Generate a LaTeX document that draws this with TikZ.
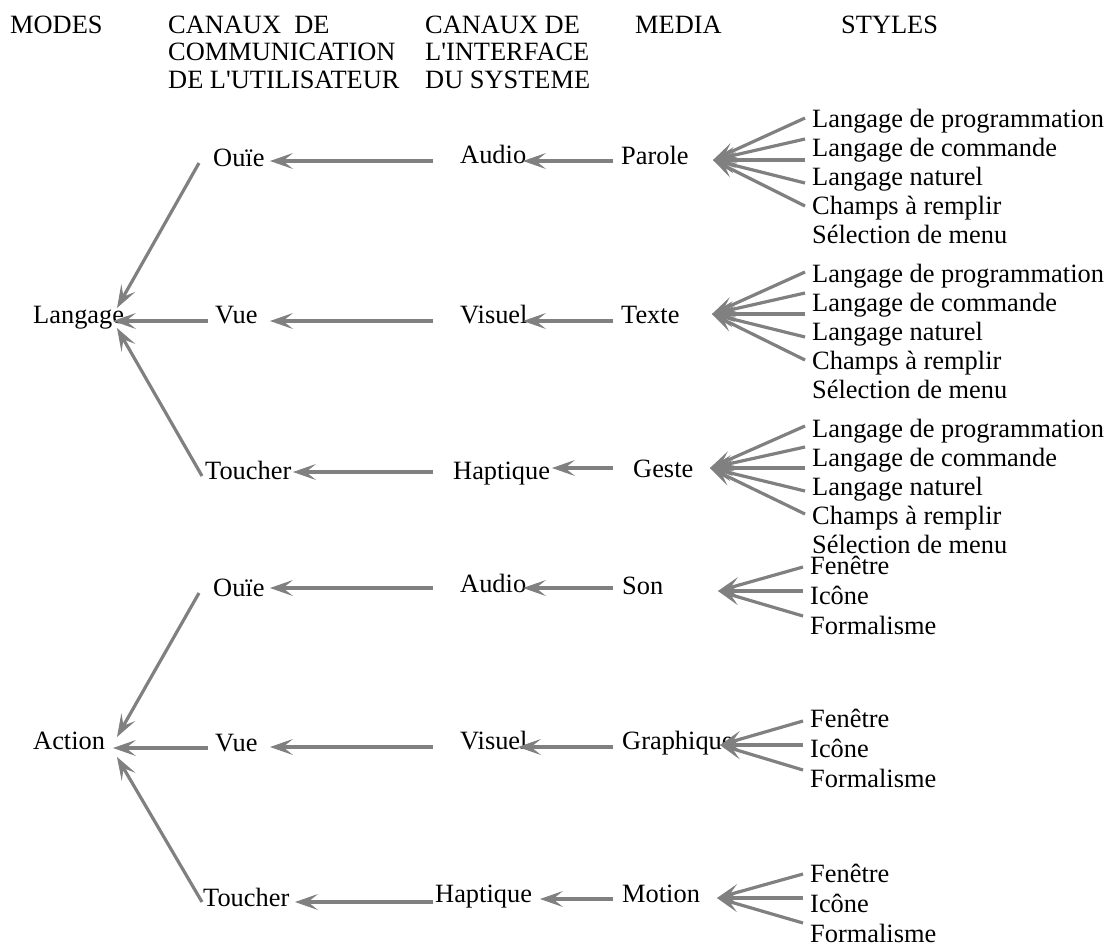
\documentclass[tikz,border=0pt]{standalone}
\usepackage{fontspec}
\setmainfont{Liberation Serif}[Ligatures=TeXOff]
\usetikzlibrary{arrows.meta}
\definecolor{arrgray}{HTML}{808080}
\tikzset{
  lbl/.style={anchor=base west,inner sep=0pt,font=\fontsize{26.4}{28}\selectfont},
  arr/.style={draw=arrgray,fill=arrgray,line width=3.2pt,arrows={-Stealth[length=23pt,width=16pt,inset=10pt,line width=1pt]}}
}
\begin{document}
\begin{tikzpicture}[x=1pt,y=-1pt]
\useasboundingbox (0,0) rectangle (1111,943);
% headers
\node[lbl] (hmodes) at (10,33) {MODES};
\node[lbl] (hu1) at (168,33) {CANAUX\ \ DE};
\node[lbl] (hu2) at (168,60.5) {COMMUNICATION};
\node[lbl] (hu3) at (168,88) {DE L'UTILISATEUR};
\node[lbl] (hs1) at (425,33) {CANAUX DE};
\node[lbl] (hs2) at (425,60.5) {L'INTERFACE};
\node[lbl] (hs3) at (425,88) {DU SYSTEME};
\node[lbl] (hmedia) at (635,33) {MEDIA};
\node[lbl] (hstyles) at (841,33) {STYLES};
% row A
\node[lbl] (ouieA) at (213,166) {Ouïe};
\node[lbl] (audioA) at (460,163) {Audio};
\node[lbl] (parole) at (621,164) {Parole};
% row B
\node[lbl] (langage) at (33,323) {Langage};
\node[lbl] (vueB) at (215,323) {Vue};
\node[lbl] (visuelB) at (460,323) {Visuel};
\node[lbl] (texte) at (621,323) {Texte};
% row C
\node[lbl] (toucherC) at (205,479) {Toucher};
\node[lbl] (haptiqueC) at (453,479) {Haptique};
\node[lbl] (geste) at (633,477) {Geste};
% row D
\node[lbl] (ouieD) at (213,596) {Ouïe};
\node[lbl] (audioD) at (460,592) {Audio};
\node[lbl] (son) at (622,594) {Son};
% row E
\node[lbl] (action) at (33,749) {Action};
\node[lbl] (vueE) at (215,751) {Vue};
\node[lbl] (visuelE) at (460,749) {Visuel};
\node[lbl] (graphique) at (622,749) {Graphique};
% row F
\node[lbl] (toucherF) at (203,906) {Toucher};
\node[lbl] (haptiqueF) at (435,902) {Haptique};
\node[lbl] (motion) at (622,902) {Motion};
% styles
\foreach \g/\b in {1/127,2/282,3/437}{
  \foreach \t [count=\i from 0] in {Langage de programmation,Langage de commande,Langage naturel,Champs à remplir,Sélection de menu}{
    \node[lbl] (s\g-\i) at (812,\b+\i*29.2) {\t};
  }
}
\foreach \g/\b in {4/574,5/727,6/882}{
  \foreach \t [count=\i from 0] in {Fenêtre,Icône,Formalisme}{
    \node[lbl] (s\g-\i) at (810,\b+\i*30) {\t};
  }
}
% horizontal connectors
\coordinate (pA1) at (613,161); \coordinate (pA2) at (523,161);
\coordinate (pA3) at (433,161); \coordinate (pA4) at (270,161);
\draw[arr] (pA1) -- (pA2);
\draw[arr] (pA3) -- (pA4);
\coordinate (pB1) at (613,321); \coordinate (pB2) at (523,321);
\coordinate (pB3) at (433,321); \coordinate (pB4) at (270,321);
\coordinate (pB5) at (208,321); \coordinate (pB6) at (113,321);
\draw[arr] (pB1) -- (pB2);
\draw[arr] (pB3) -- (pB4);
\draw[arr] (pB5) -- (pB6);
\coordinate (pC1) at (613,468); \coordinate (pC2) at (552,468);
\coordinate (pC3) at (433,472); \coordinate (pC4) at (293,472);
\draw[arr] (pC1) -- (pC2);
\draw[arr] (pC3) -- (pC4);
\coordinate (pD1) at (613,588); \coordinate (pD2) at (523,588);
\coordinate (pD3) at (433,588); \coordinate (pD4) at (270,588);
\draw[arr] (pD1) -- (pD2);
\draw[arr] (pD3) -- (pD4);
\coordinate (pE1) at (613,747); \coordinate (pE2) at (518,747);
\coordinate (pE3) at (433,747); \coordinate (pE4) at (270,747);
\coordinate (pE5) at (208,748); \coordinate (pE6) at (113,748);
\draw[arr] (pE1) -- (pE2);
\draw[arr] (pE3) -- (pE4);
\draw[arr] (pE5) -- (pE6);
\coordinate (pF1) at (613,899); \coordinate (pF2) at (540,899);
\coordinate (pF3) at (433,902); \coordinate (pF4) at (295,902);
\draw[arr] (pF1) -- (pF2);
\draw[arr] (pF3) -- (pF4);
% diagonal connectors
\coordinate (dA1) at (199,163); \coordinate (dA2) at (117,308);
\coordinate (dC1) at (202,476); \coordinate (dC2) at (117,328);
\coordinate (dD1) at (199,593); \coordinate (dD2) at (117,737);
\coordinate (dF1) at (202,902); \coordinate (dF2) at (117,757);
\draw[arr] (dA1) -- (dA2);
\draw[arr] (dC1) -- (dC2);
\draw[arr] (dD1) -- (dD2);
\draw[arr] (dF1) -- (dF2);
% fans
\foreach \g/\tx/\ty in {1/713/160,2/712/314,3/710/468}{
  \coordinate (fanT\g) at (\tx,\ty);
  \foreach \d [count=\k] in {-42,-21,0,23,46}{
    \coordinate (fan\g-\k) at (805,\ty+\d);
    \draw[arr] (fan\g-\k) -- (fanT\g);
  }
}
\foreach \g/\tx/\ty in {4/718/591,5/720/745,6/717/898}{
  \coordinate (fanT\g) at (\tx,\ty);
  \foreach \d [count=\k] in {-24,0,25}{
    \coordinate (fan\g-\k) at (803,\ty+\d);
    \draw[arr] (fan\g-\k) -- (fanT\g);
  }
}
\end{tikzpicture}
\end{document}
